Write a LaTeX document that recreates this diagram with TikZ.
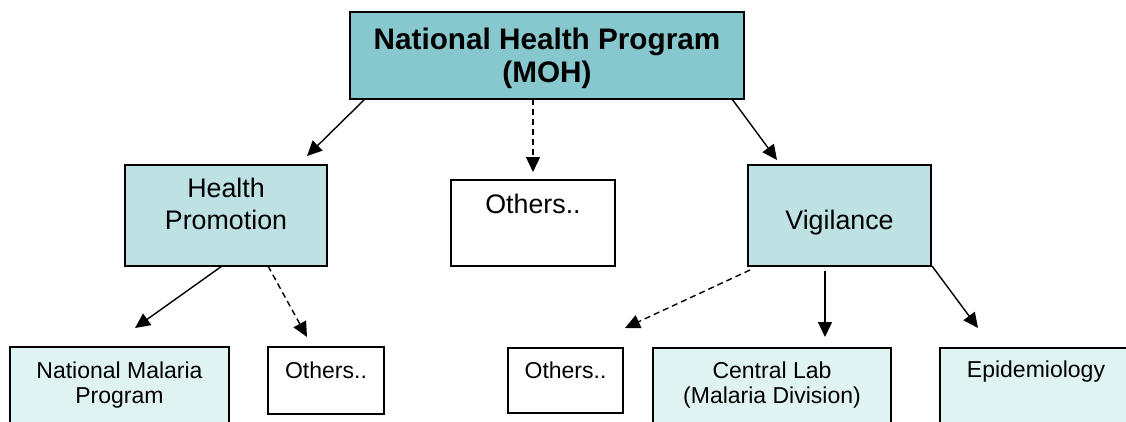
\documentclass[tikz,border=0pt]{standalone}
\usepackage{fontspec}
\setmainfont{Liberation Sans}
\usetikzlibrary{arrows.meta}
\definecolor{topfill}{RGB}{134,200,206}
\definecolor{midfill}{RGB}{190,225,228}
\definecolor{lowfill}{RGB}{224,243,243}
\tikzset{
  boxstyle/.style={draw=black, line width=1.4pt, rectangle, inner sep=0pt, outer sep=0pt},
  txtbig/.style={inner sep=0pt, anchor=base, font=\fontsize{29.7}{33}\selectfont\bfseries},
  txtmid/.style={inner sep=0pt, anchor=base, font=\fontsize{26.8}{32}\selectfont},
  txtlow/.style={inner sep=0pt, anchor=base, font=\fontsize{23}{25}\selectfont},
  arr/.style={line width=1.4pt, -{Triangle[length=15pt,width=14pt]}},
  darr/.style={arr, dash pattern=on 6pt off 4pt}
}
\begin{document}
\begin{tikzpicture}[x=1pt,y=-1pt]
\clip (0,0) rectangle (1126,421);
\fill[white] (0,0) rectangle (1126,421);
% boxes
\node[boxstyle, fill=topfill, minimum width=394pt, minimum height=87pt] (top) at (547,55.5) {};
\node[boxstyle, fill=midfill, minimum width=202pt, minimum height=101pt] (hp) at (226,215.5) {};
\node[boxstyle, fill=white, minimum width=164pt, minimum height=86pt] (othm) at (533,223) {};
\node[boxstyle, fill=midfill, minimum width=183pt, minimum height=101pt] (vig) at (839.5,215.5) {};
\node[boxstyle, fill=lowfill, minimum width=219pt, minimum height=93pt] (nmp) at (119.5,393.5) {};
\node[boxstyle, fill=white, minimum width=116pt, minimum height=67pt] (othbl) at (326,380.5) {};
\node[boxstyle, fill=white, minimum width=115pt, minimum height=65pt] (othbm) at (565.5,380.5) {};
\node[boxstyle, fill=lowfill, minimum width=238pt, minimum height=92pt] (cl) at (772,394) {};
\node[boxstyle, fill=lowfill, minimum width=192pt, minimum height=92pt] (epi) at (1036,394) {};
% texts
\node[txtbig] (topa) at (547,49) {National Health Program};
\node[txtbig] (topb) at (547,82) {(MOH)};
\node[txtmid] (hpa) at (226,197) {Health};
\node[txtmid] (hpb) at (226,229) {Promotion};
\node[txtmid] (othmt) at (533,213) {Others..};
\node[txtmid] (vigt) at (839.5,229) {Vigilance};
\node[txtlow] (nmpa) at (119.5,378) {National Malaria};
\node[txtlow] (nmpb) at (119.5,403) {Program};
\node[txtlow] (othblt) at (326,378) {Others..};
\node[txtlow] (othbmt) at (565.5,378) {Others..};
\node[txtlow] (cla) at (772,378) {Central Lab};
\node[txtlow] (clb) at (772,403) {(Malaria Division)};
\node[txtlow] (epit) at (1036,377) {Epidemiology};
% arrow tips
\coordinate (tipHP) at (307,156);
\coordinate (tipOM) at (533,172);
\coordinate (tipVG) at (777,160);
\coordinate (tipNMP) at (135,328);
\coordinate (tipOBL) at (307,337);
\coordinate (tipOBM) at (625,328);
\coordinate (tipCL) at (825,337);
\coordinate (tipEPI) at (978,328);
% connectors
\draw[arr] ([xshift=15pt]top.south west) -- (tipHP);
\draw[darr] (othm.north |- top.south) -- (tipOM);
\draw[arr] ([xshift=-12pt]top.south east) -- (tipVG);
\draw[arr] ([xshift=-4pt]hp.south) -- (tipNMP);
\draw[darr] ([xshift=42pt]hp.south) -- (tipOBL);
\draw[darr] ([xshift=2pt,yshift=-4pt]vig.south west) -- (tipOBM);
\draw[arr] ([xshift=-14.5pt,yshift=-5pt]vig.south) -- (tipCL);
\draw[arr] ([xshift=1pt]vig.south east) -- (tipEPI);
\end{tikzpicture}
\end{document}
